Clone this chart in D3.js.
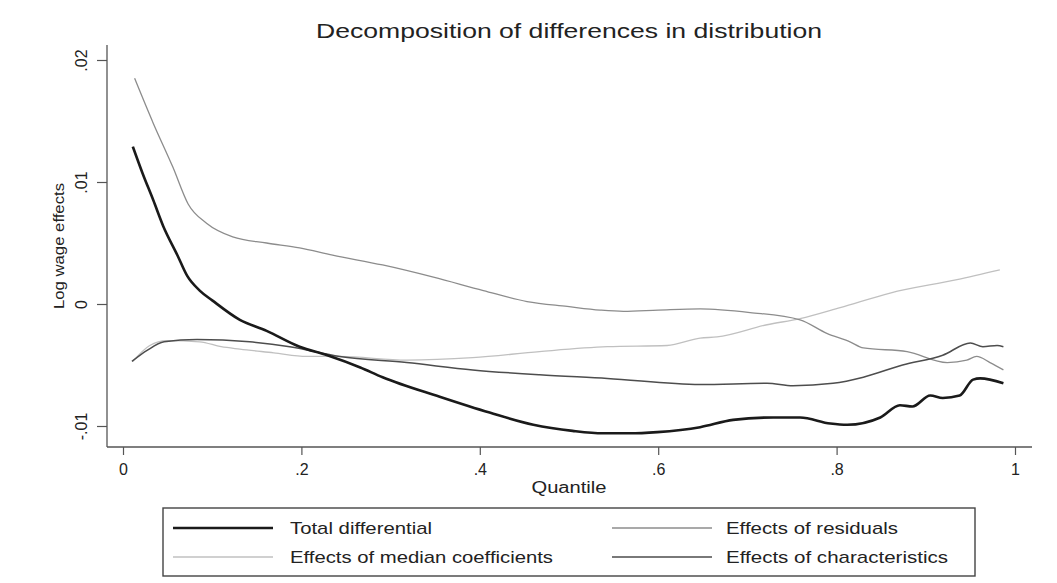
<!DOCTYPE html>
<html>
<head>
<meta charset="utf-8">
<script src="https://cdn.jsdelivr.net/npm/d3@7"></script>
<style>
  html, body { margin: 0; padding: 0; background: #fff; }
  svg { display: block; font-family: "Liberation Sans", Arial, sans-serif; }
</style>
</head>
<body>
<svg id="chart" width="1057" height="583"></svg>
<script>
// ---------- data ----------
const titleText = "Decomposition of differences in distribution";
const xTitle = "Quantile";
const yTitle = "Log wage effects";

const xTicks = [0, 0.2, 0.4, 0.6, 0.8, 1];
const xTickLabels = ["0", ".2", ".4", ".6", ".8", "1"];
const yTicks = [-0.01, 0, 0.01, 0.02];
const yTickLabels = ["-.01", "0", ".01", ".02"];

const seriesNames = ["Total differential", "Effects of residuals",
                     "Effects of median coefficients", "Effects of characteristics"];

const totalQ = [.011,.022,.034,.045,.061,.072,.086,.100,.131,.161,.198,.229,.266,.291,.355,.411,.460,.504,.538,.568,.599,.647,.684,.729,.759,.793,.812,.849,.871,.885,.905,.919,.938,.953,.961,.987];
const totalV = [.0129,.0107,.0085,.0064,.0040,.0023,.0011,.0003,-.0013,-.0022,-.0035,-.0042,-.0052,-.0060,-.0076,-.0089,-.0099,-.0104,-.0106,-.0106,-.0105,-.0101,-.0095,-.0093,-.0093,-.0098,-.0099,-.0093,-.0083,-.0084,-.0075,-.0077,-.0075,-.0062,-.0061,-.0065];

const residQ = [.013,.034,.056,.073,.094,.123,.161,.198,.235,.291,.348,.404,.453,.498,.535,.561,.600,.647,.703,.759,.789,.815,.830,.879,.924,.946,.957,.972,.987];
const residV = [.0185,.0148,.0112,.0082,.0066,.0055,.0050,.0046,.0040,.0032,.0022,.0011,.0002,-.0002,-.0005,-.0006,-.0005,-.0004,-.0007,-.0013,-.0024,-.0031,-.0036,-.0039,-.0048,-.0046,-.0043,-.0048,-.0054];

const coefQ = [.011,.030,.049,.086,.110,.131,.169,.206,.243,.318,.392,.467,.543,.610,.647,.666,.722,.759,.804,.860,.935,.983];
const coefV = [-.0047,-.0034,-.0030,-.0031,-.0035,-.0037,-.0040,-.0043,-.0043,-.0046,-.0044,-.0039,-.0035,-.0034,-.0028,-.0027,-.0017,-.0012,-.0003,.0009,.0020,.0028];

const charQ = [.010,.027,.046,.083,.142,.187,.243,.318,.392,.467,.543,.647,.722,.751,.796,.830,.874,.919,.950,.964,.980,.987];
const charV = [-.0047,-.0038,-.0031,-.0029,-.0031,-.0035,-.0043,-.0048,-.0054,-.0058,-.0061,-.0066,-.0065,-.0067,-.0065,-.0060,-.0050,-.0042,-.0032,-.0035,-.0034,-.0035];

// ---------- layout / style ----------
const plotLeft = 107, plotRight = 1032, plotTop = 45, plotBottom = 447;
const svg = d3.select("#chart");

const x = d3.scaleLinear().domain([0, 1]).range([123, 1015]);
const y = d3.scaleLinear().domain([-0.01, 0.02]).range([426, 60]);

const styles = [
  { color: "#1a1a1a", width: 2.6 },
  { color: "#8c8c8c", width: 1.3 },
  { color: "#c0c0c0", width: 1.3 },
  { color: "#4d4d4d", width: 1.5 }
];

const series = [
  d3.zip(totalQ, totalV),
  d3.zip(residQ, residV),
  d3.zip(coefQ, coefV),
  d3.zip(charQ, charV)
];

const axisColor = "#555";
const textColor = "#222";

// title
svg.append("text")
  .attr("x", 569).attr("y", 38)
  .attr("text-anchor", "middle")
  .attr("font-size", 20)
  .attr("textLength", 506).attr("lengthAdjust", "spacingAndGlyphs")
  .attr("fill", textColor)
  .text(titleText);

// axes lines
svg.append("line").attr("x1", plotLeft).attr("x2", plotLeft)
  .attr("y1", plotTop).attr("y2", plotBottom)
  .attr("stroke", axisColor).attr("stroke-width", 1.3);
svg.append("line").attr("x1", plotLeft).attr("x2", plotRight)
  .attr("y1", plotBottom).attr("y2", plotBottom)
  .attr("stroke", axisColor).attr("stroke-width", 1.3);

// x axis
const xAxis = d3.axisBottom(x).tickValues(xTicks)
  .tickFormat((d, i) => xTickLabels[i]).tickSize(8).tickPadding(9);
const gx = svg.append("g").attr("transform", `translate(0,${plotBottom})`).call(xAxis);
gx.select(".domain").remove();
gx.selectAll(".tick line").attr("stroke", axisColor).attr("stroke-width", 1.2);
gx.selectAll(".tick text").attr("font-size", 16).attr("fill", textColor)
  .attr("font-family", "Liberation Sans, Arial, sans-serif");

// y axis
const yAxis = d3.axisLeft(y).tickValues(yTicks)
  .tickFormat((d, i) => yTickLabels[i]).tickSize(10);
const gy = svg.append("g").attr("transform", `translate(${plotLeft},0)`).call(yAxis);
gy.select(".domain").remove();
gy.selectAll(".tick line").attr("stroke", axisColor).attr("stroke-width", 1.2);
gy.selectAll(".tick text")
  .attr("x", 0).attr("y", -20).attr("dy", 0)
  .attr("transform", "rotate(-90)")
  .attr("text-anchor", "middle")
  .attr("font-size", 16).attr("fill", textColor)
  .attr("font-family", "Liberation Sans, Arial, sans-serif");

// axis titles
svg.append("text")
  .attr("transform", `translate(64,${(plotTop + plotBottom) / 2}) rotate(-90)`)
  .attr("text-anchor", "middle")
  .attr("font-size", 15)
  .attr("textLength", 126).attr("lengthAdjust", "spacingAndGlyphs")
  .attr("fill", textColor)
  .text(yTitle);
svg.append("text")
  .attr("x", 569).attr("y", 493)
  .attr("text-anchor", "middle")
  .attr("font-size", 16)
  .attr("textLength", 75).attr("lengthAdjust", "spacingAndGlyphs")
  .attr("fill", textColor)
  .text(xTitle);

// lines (draw light first, total last)
const line = d3.line().x(d => x(d[0])).y(d => y(d[1])).curve(d3.curveMonotoneX);
[2, 1, 3, 0].forEach(i => {
  svg.append("path")
    .datum(series[i])
    .attr("fill", "none")
    .attr("stroke", styles[i].color)
    .attr("stroke-width", styles[i].width)
    .attr("stroke-linejoin", "round")
    .attr("d", line);
});

// legend
svg.append("rect")
  .attr("x", 163).attr("y", 508).attr("width", 812).attr("height", 68)
  .attr("fill", "#fff").attr("stroke", "#444").attr("stroke-width", 1.4);

const legendPos = [
  { lx: 173, tx: 290, y: 528, w: 142 },
  { lx: 612, tx: 726, y: 528, w: 172 },
  { lx: 173, tx: 290, y: 557, w: 263 },
  { lx: 612, tx: 726, y: 557, w: 222 }
];
seriesNames.forEach((name, i) => {
  const p = legendPos[i];
  svg.append("line")
    .attr("x1", p.lx).attr("x2", p.lx + 100)
    .attr("y1", p.y).attr("y2", p.y)
    .attr("stroke", styles[i].color).attr("stroke-width", styles[i].width);
  svg.append("text")
    .attr("x", p.tx).attr("y", p.y + 6)
    .attr("font-size", 17)
    .attr("textLength", p.w).attr("lengthAdjust", "spacingAndGlyphs")
    .attr("fill", textColor)
    .text(name);
});
</script>
</body>
</html>
